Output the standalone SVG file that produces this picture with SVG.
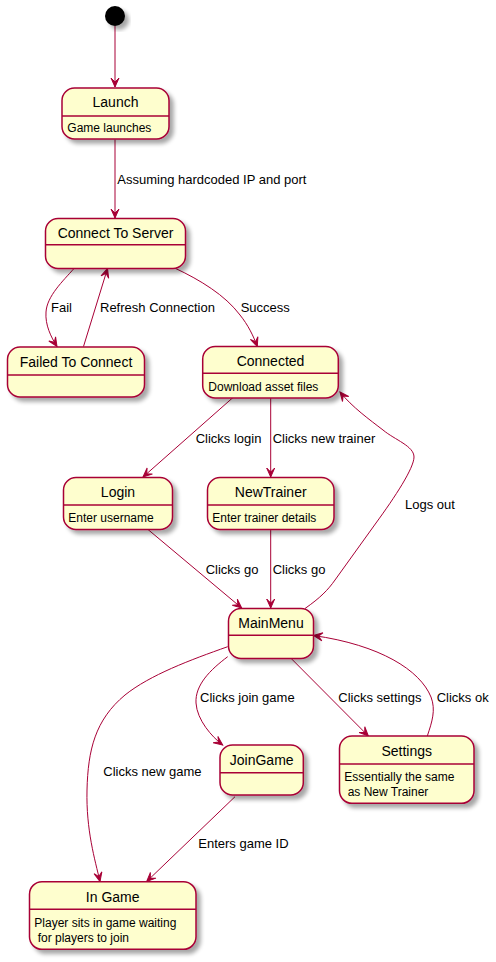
<svg xmlns="http://www.w3.org/2000/svg" width="496" height="962" viewBox="0 0 496 962">
<style>
.n{fill:#FEFECE;stroke:#A80036;stroke-width:1.5;filter:url(#sh)}
.d{stroke:#A80036;stroke-width:1.5}
.t{font-family:"Liberation Sans",Arial,sans-serif;font-size:14px;fill:#000;text-anchor:middle}
.b{font-family:"Liberation Sans",Arial,sans-serif;font-size:12px;fill:#000}
.l{font-family:"Liberation Sans",Arial,sans-serif;font-size:13px;fill:#000}
.e{fill:none;stroke:#A80036;stroke-width:1;marker-end:url(#ar)}
</style>
<defs>
<filter id="sh" x="-20%" y="-20%" width="150%" height="150%">
<feGaussianBlur in="SourceAlpha" stdDeviation="2"/>
<feOffset dx="4" dy="4" result="o"/>
<feComponentTransfer><feFuncA type="linear" slope="0.35"/></feComponentTransfer>
<feMerge><feMergeNode/><feMergeNode in="SourceGraphic"/></feMerge>
</filter>
<marker id="ar" markerUnits="userSpaceOnUse" markerWidth="12" markerHeight="12" refX="10" refY="5" orient="auto">
<path d="M1,1 L10,5 L1,9 L5,5 Z" fill="#A80036" stroke="#A80036" stroke-width="1"/>
</marker>
</defs>

<g id="edges">
<path class="e" d="M115,26 L115,87"/>
<path class="e" d="M115,139.5 L115,218"/>
<path class="e" d="M74,268.5 C63,281 47,296 46,312 C45,325 51,337 57,346.5"/>
<path class="e" d="M83.5,346.5 L107.5,268.5"/>
<path class="e" d="M175.7,268.5 C200,280 225,295 240,315 C248,325 253,335 257.3,346.5"/>
<path class="e" d="M233,397.5 L143,477"/>
<path class="e" d="M270.7,398 L270.7,477"/>
<path class="e" d="M148,529.5 L241.7,608"/>
<path class="e" d="M270.7,529.5 L270.7,608"/>
<path class="e" d="M305,608.5 C320,598 328,590 335,580 L376,523 C395,497 414,468 414,457 C414,446 395,440 383,430 C370,420 352,407 340,392"/>
<path class="e" d="M227.7,646.7 C190,660 150,675 125,695 C95,720 88,750 87,790 C86,830 95,860 100,881.5"/>
<path class="e" d="M227.7,656.7 C210,670 195,685 196,703 C197,720 212,737 222.7,745"/>
<path class="e" d="M291.7,659 L368.3,736"/>
<path class="e" d="M427.3,736 C432,722 436,710 431,697 C420,670 380,645 313.5,635.5"/>
<path class="e" d="M235,796.7 L146.7,881.5"/>
<text class="l" x="117.3" y="183.5">Assuming hardcoded IP and port</text>
<text class="l" x="51" y="312">Fail</text>
<text class="l" x="100" y="312">Refresh Connection</text>
<text class="l" x="240.7" y="312">Success</text>
<text class="l" x="195.7" y="443">Clicks login</text>
<text class="l" x="272.7" y="443">Clicks new trainer</text>
<text class="l" x="405" y="509">Logs out</text>
<text class="l" x="205.7" y="574">Clicks go</text>
<text class="l" x="272.7" y="574">Clicks go</text>
<text class="l" x="200" y="702">Clicks join game</text>
<text class="l" x="338.3" y="702">Clicks settings</text>
<text class="l" x="436.7" y="702">Clicks ok</text>
<text class="l" x="103.3" y="775.5">Clicks new game</text>
<text class="l" x="198.3" y="848">Enters game ID</text>
</g>

<g id="start">
<circle cx="115" cy="16" r="10" fill="#000" filter="url(#sh)"/>
</g>

<g id="launch">
<rect class="n" x="62" y="88" width="107" height="51" rx="12.5"/>
<line class="d" x1="62" y1="116" x2="169" y2="116"/>
<text class="t" x="115.5" y="107">Launch</text>
<text class="b" x="67.3" y="132">Game launches</text>
</g>

<g id="connect">
<rect class="n" x="45.5" y="218.5" width="140" height="50" rx="12.5"/>
<line class="d" x1="45.5" y1="244.7" x2="185.5" y2="244.7"/>
<text class="t" x="115.5" y="238">Connect To Server</text>
</g>

<g id="failed">
<rect class="n" x="7.5" y="347" width="137" height="50" rx="12.5"/>
<line class="d" x1="7.5" y1="375" x2="144.5" y2="375"/>
<text class="t" x="76" y="367">Failed To Connect</text>
</g>

<g id="connected">
<rect class="n" x="202.7" y="346.5" width="135.6" height="51.5" rx="12.5"/>
<line class="d" x1="202.7" y1="373.3" x2="338.3" y2="373.3"/>
<text class="t" x="270.5" y="366">Connected</text>
<text class="b" x="208.3" y="390.5">Download asset files</text>
</g>

<g id="login">
<rect class="n" x="63.5" y="477.5" width="109" height="52" rx="12.5"/>
<line class="d" x1="63.5" y1="505" x2="172.5" y2="505"/>
<text class="t" x="118" y="497">Login</text>
<text class="b" x="68.3" y="522">Enter username</text>
</g>

<g id="newtrainer">
<rect class="n" x="207.5" y="477.5" width="126.5" height="52" rx="12.5"/>
<line class="d" x1="207.5" y1="505" x2="334" y2="505"/>
<text class="t" x="270.7" y="497">NewTrainer</text>
<text class="b" x="212.3" y="522">Enter trainer details</text>
</g>

<g id="mainmenu">
<rect class="n" x="228.5" y="608.5" width="85" height="50" rx="12.5"/>
<line class="d" x1="228.5" y1="635.3" x2="313.5" y2="635.3"/>
<text class="t" x="271" y="627.5">MainMenu</text>
</g>

<g id="joingame">
<rect class="n" x="220" y="745" width="83.3" height="50" rx="12.5"/>
<line class="d" x1="220" y1="772.7" x2="303.3" y2="772.7"/>
<text class="t" x="261.7" y="764.5">JoinGame</text>
</g>

<g id="settings">
<rect class="n" x="339.5" y="736" width="134.5" height="67.3" rx="12.5"/>
<line class="d" x1="339.5" y1="764" x2="474" y2="764"/>
<text class="t" x="406.7" y="756">Settings</text>
<text class="b" x="344.3" y="781">Essentially the same</text>
<text class="b" x="344.3" y="796" xml:space="preserve"> as New Trainer</text>
</g>

<g id="ingame">
<rect class="n" x="29.5" y="881.7" width="166.5" height="67.6" rx="12.5"/>
<line class="d" x1="29.5" y1="909.3" x2="196" y2="909.3"/>
<text class="t" x="112.7" y="902">In Game</text>
<text class="b" x="34.3" y="927">Player sits in game waiting</text>
<text class="b" x="34.3" y="942" xml:space="preserve"> for players to join</text>
</g>
</svg>
